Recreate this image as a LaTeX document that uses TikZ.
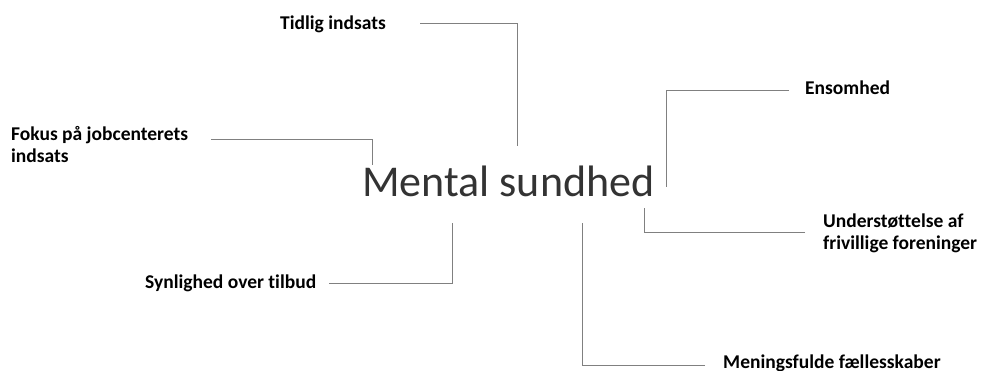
\documentclass[tikz,border=0pt]{standalone}
\usepackage{fontspec}
\setmainfont[Ligatures=NoCommon]{Carlito}
\begin{document}
\begin{tikzpicture}[x=1pt,y=-1pt,
  lbl/.style={inner sep=0pt,anchor=base west,font=\fontsize{19.5}{22}\selectfont\bfseries,align=left,text=black},
  conn/.style={draw={rgb,255:red,128;green,128;blue,128},line width=1pt}]
\useasboundingbox[fill=white] (0,0) rectangle (987,371);
\node[inner sep=0pt,anchor=base west,font=\fontsize{44}{50}\selectfont,text=black!80] (ms) at (362,197) {Mental sundhed};

\node[lbl] (tid) at (280,29.5) {Tidlig indsats};
\node[lbl,anchor=north west] (fok) at (11,126) {Fokus på jobcenterets\\indsats};
\node[lbl] (ens) at (805,95) {Ensomhed};
\node[lbl,anchor=north west] (und) at (823,214) {Understøttelse af\\frivillige foreninger};
\node[lbl] (syn) at (145,288) {Synlighed over tilbud};
\node[lbl] (men) at (723,368) {Meningsfulde fællesskaber};

\coordinate (tidA) at (420,24);   \coordinate (tidB) at (517,146);
\coordinate (fokA) at (211,140);  \coordinate (fokB) at (372,165);
\coordinate (ensA) at (789,91);   \coordinate (ensB) at (666,187);
\coordinate (undA) at (805,233);  \coordinate (undB) at (644,208);
\coordinate (synA) at (329,283);  \coordinate (synB) at (452,223);
\coordinate (menA) at (705,365);  \coordinate (menB) at (582,223);

\draw[conn] (tidA) -| (tidB);
\draw[conn] (fokA) -| (fokB);
\draw[conn] (ensA) -| (ensB);
\draw[conn] (undA) -| (undB);
\draw[conn] (synA) -| (synB);
\draw[conn] (menA) -| (menB);
\end{tikzpicture}
\end{document}
